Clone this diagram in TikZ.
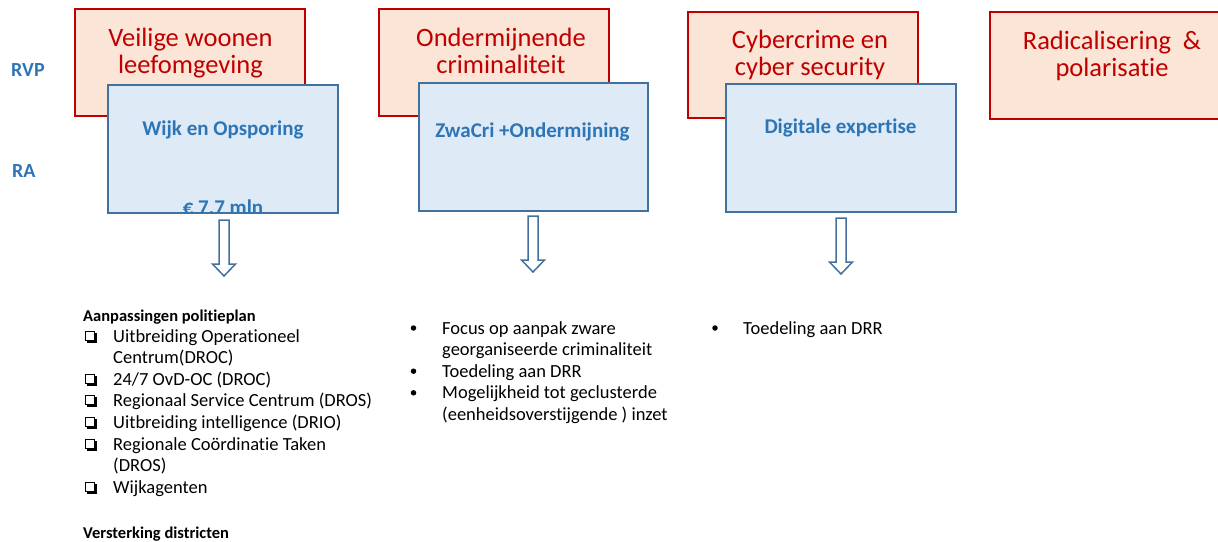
\documentclass[tikz,border=0pt]{standalone}
\usepackage{fontspec}
\setmainfont{Carlito}[Ligatures=NoCommon]
\usepackage{tikz}
\definecolor{rvpred}{HTML}{C00000}
\definecolor{rvpfill}{HTML}{FBE5D6}
\definecolor{raline}{HTML}{41719C}
\definecolor{rafill}{HTML}{DEEBF7}
\definecolor{rablue}{HTML}{2E75B6}
\tikzset{
    rvpbox/.style={
        rectangle,
        draw=rvpred,
        fill=rvpfill,
        line width=2.5pt,
        minimum width=230pt,
        minimum height=107pt,
        inner sep=0pt,
    },
    rabox/.style={
        rectangle,
        draw=raline,
        fill=rafill,
        line width=2pt,
        minimum width=230pt,
        minimum height=128pt,
        inner sep=0pt,
    },
    rvptext/.style={
        text=rvpred,
        align=center,
        font=\fontsize{26.5}{27}\selectfont,
        inner sep=0pt,
        anchor=base,
    },
    ratext/.style={
        text=rablue,
        font=\bfseries\fontsize{21}{25}\selectfont,
        inner sep=0pt,
        anchor=base,
    },
    rowlabel/.style={
        text=rablue,
        font=\bfseries\fontsize{20}{24}\selectfont,
        inner sep=0pt,
        anchor=base west,
    },
    listtext/.style={
        align=left,
        font=\fontsize{18.5}{21.6}\selectfont,
        inner sep=0pt,
        anchor=base west,
    },
    listhead/.style={
        font=\bfseries\fontsize{16.5}{20}\selectfont,
        inner sep=0pt,
        anchor=base west,
    },
    bulletdot/.style={
        circle,
        fill=black,
        inner sep=0pt,
        minimum size=5.5pt,
    },
    chkbox/.pic={
        \draw[line width=1pt] (0,0) rectangle (9,9);
        \fill (1.5,9) rectangle (11.5,11.5);
        \fill (9,1.5) rectangle (11.5,11.5);
    },
    downarrow/.pic={
        \draw[draw=raline, fill=white, line width=1.5pt]
            (-5,0) -- (5,0) -- (5,44) -- (11.5,44) -- (0,56)
            -- (-11.5,44) -- (-5,44) -- cycle;
    },
}
\begin{document}
\begin{tikzpicture}[x=1pt, y=-1pt]
    \useasboundingbox (0,0) rectangle (1218,541);

    \node [rowlabel] (RVP) at (11,76) {RVP};
    \node [rowlabel] (RA) at (12,177) {RA};

    \node [rvpbox] (R1) at (190,62.5) {};
    \node [rvptext] (R1t) at (190.5,73.5) {Veilige woonen\\leefomgeving};
    \node [rabox] (B1) at (223,149) {};
    \node [ratext] (B1t) at (223,135) {Wijk en Opsporing};
    \begin{scope}
        \clip (108,85) rectangle (338,212);
        \node [ratext] (B1c) at (223,214) {€ 7,7 mln};
    \end{scope}

    \node [rvpbox] (R2) at (494,62.5) {};
    \node [rvptext] (R2t) at (501,73.5) {Ondermijnende\\criminaliteit};
    \node [rabox, minimum width=229pt] (B2) at (533.5,146.5) {};
    \node [ratext] (B2t) at (532.5,137) {ZwaCri +Ondermijning};

    \node [rvpbox, minimum height=106pt] (R3) at (803,65) {};
    \node [rvptext] (R3t) at (810,75) {Cybercrime en\\cyber security};
    \node [rabox] (B3) at (841,148) {};
    \node [ratext] (B3t) at (840.5,133) {Digitale expertise};

    \node [rvpbox, minimum width=232pt] (R4) at (1106,65.5) {};
    \node [rvptext] (R4t) at (1112,76.5) {Radicalisering~ \&\\polarisatie};

    \pic (A1) at (224,220) {downarrow};
    \pic (A2) at (533,216) {downarrow};
    \pic (A3) at (841,218) {downarrow};

    \node [listhead] (H1) at (83,321) {Aanpassingen politieplan};
    \node [listtext] (L1) at (113,493.2) {Uitbreiding Operationeel\\Centrum(DROC)\\24/7 OvD-OC (DROC)\\Regionaal Service Centrum (DROS)\\Uitbreiding intelligence (DRIO)\\Regionale Coördinatie Taken\\(DROS)\\Wijkagenten};
    \pic at (85,331) {chkbox};
    \pic at (85,374.2) {chkbox};
    \pic at (85,395.8) {chkbox};
    \pic at (85,417.4) {chkbox};
    \pic at (85,439) {chkbox};
    \pic at (85,482.2) {chkbox};
    \node [listhead] (H2) at (83,538) {Versterking districten};

    \node [listtext] (L2) at (442,420.4) {Focus op aanpak zware\\georganiseerde criminaliteit\\Toedeling aan DRR\\Mogelijkheid tot geclusterde\\(eenheidsoverstijgende ) inzet};
    \node [bulletdot] (D1) at (413.5,328) {};
    \node [bulletdot] (D2) at (413.5,371.2) {};
    \node [bulletdot] (D3) at (413.5,392.8) {};

    \node [listtext] (L3) at (743,334) {Toedeling aan DRR};
    \node [bulletdot] (D4) at (715,328) {};
\end{tikzpicture}
\end{document}
